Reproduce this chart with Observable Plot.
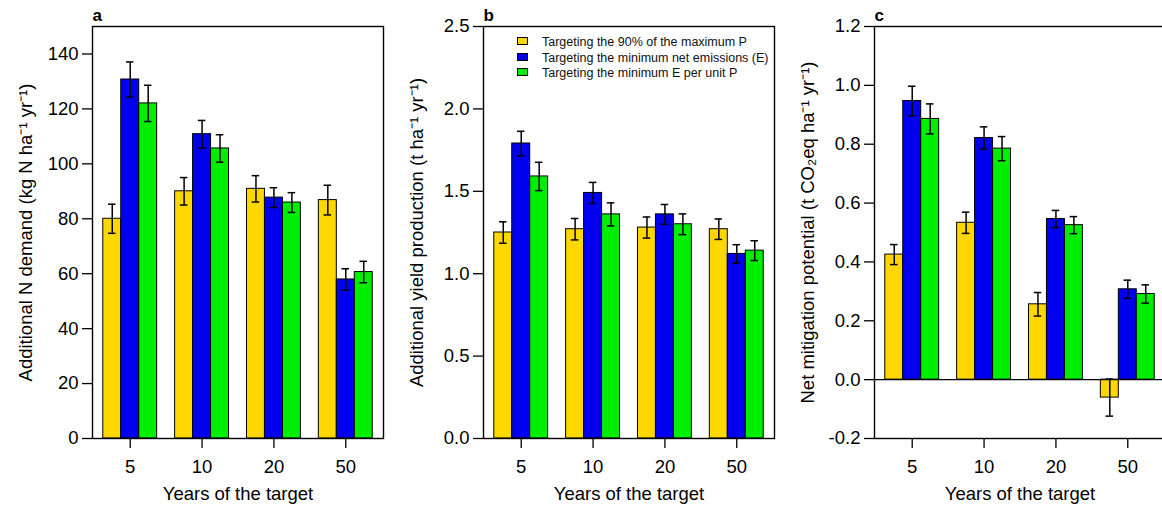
<!DOCTYPE html>
<html>
<head>
<meta charset="utf-8">
<script src="https://cdn.jsdelivr.net/npm/d3@7"></script>
<script src="https://cdn.jsdelivr.net/npm/@observablehq/plot@0.6"></script>
<style>
  html, body { margin: 0; padding: 0; background: #fff; overflow: hidden; width: 1162px; }
  #wrap { position: relative; width: 1162px; height: 507px; overflow: hidden; font-family: "Liberation Sans", Arial, sans-serif; }
  .panel { position: absolute; top: 0; max-width: none !important; }
  .legend { position: absolute; left: 517px; top: 35px; font-size: 12.5px; line-height: 15.5px; color: #111; }
  .legend div { white-space: nowrap; }
  .legend span.sw { display: inline-block; width: 9px; height: 6px; border: 1px solid #000; margin-right: 14px; vertical-align: 1px; }
</style>
</head>
<body>
<div id="wrap"></div>
<script>
// ---------- data ----------
const years = ["5", "10", "20", "50"];
const series = [
  "Targeting the 90% of the maximum P",
  "Targeting the minimum net emissions (E)",
  "Targeting the minimum E per unit P"
];
const colors = ["#ffd700", "#0000ee", "#00ee00"];

// panel a: Additional N demand (kg N ha-1 yr-1), one array per series across years
const nDemand90   = [80.0, 90.0, 90.9, 86.8];
const nDemandMinE = [130.7, 110.8, 87.7, 57.9];
const nDemandMinEP= [122.0, 105.6, 85.9, 60.6];
const nDemandErr90   = [5.3, 5.0, 4.8, 5.4];
const nDemandErrMinE = [6.4, 5.0, 3.6, 3.9];
const nDemandErrMinEP= [6.6, 5.0, 3.6, 3.9];

// panel b: Additional yield production (t ha-1 yr-1)
const yield90   = [1.25, 1.27, 1.28, 1.27];
const yieldMinE = [1.79, 1.49, 1.36, 1.12];
const yieldMinEP= [1.59, 1.36, 1.30, 1.14];
const yieldErr90   = [0.065, 0.065, 0.064, 0.062];
const yieldErrMinE = [0.074, 0.064, 0.060, 0.056];
const yieldErrMinEP= [0.086, 0.070, 0.063, 0.060];

// panel c: Net mitigation potential (t CO2eq ha-1 yr-1)
const mitig90   = [0.425, 0.533, 0.256, -0.061];
const mitigMinE = [0.947, 0.821, 0.546, 0.307];
const mitigMinEP= [0.886, 0.785, 0.525, 0.291];
const mitigErr90   = [0.034, 0.036, 0.040, 0.063];
const mitigErrMinE = [0.050, 0.038, 0.029, 0.031];
const mitigErrMinEP= [0.051, 0.041, 0.029, 0.031];

const yTicksA = [0, 20, 40, 60, 80, 100, 120, 140];
const yTicksB = [0, 0.5, 1.0, 1.5, 2.0, 2.5];
const yTicksC = [-0.2, 0, 0.2, 0.4, 0.6, 0.8, 1.0, 1.2];

// ---------- layout helpers (R barplot beside=TRUE, space = c(0,1)) ----------
const nS = series.length;
const barPos = (g, s) => 1 + g * (nS + 1) + s + 0.5;      // bar centre
const groupPos = g => 1 + g * (nS + 1) + nS / 2;          // group centre
const xMin = 1 - 0.04 * (years.length * (nS + 1) - 1);
const xMax = years.length * (nS + 1) + 0.04 * (years.length * (nS + 1) - 1);

function buildRows(valueSets, errSets) {
  const rows = [];
  valueSets.forEach((vals, s) => {
    vals.forEach((v, g) => {
      rows.push({year: years[g], series: series[s], value: v, err: errSets[s][g], pos: barPos(g, s)});
    });
  });
  return rows;
}

const FONT = "'Liberation Sans', Arial, sans-serif";
const FS = 18.5;
const PANEL_W = 391;
const PAGE_W = 1162;

function panel({letter, rows, yDomain, yTicks, yFormat, yLabel, zero, left}) {
  // the last panel is cut by the page edge, as in the reference figure
  const w = Math.min(PANEL_W, PAGE_W - left);
  const mr = 8 - (PANEL_W - w);
  const marks = [
    Plot.rectY(rows, {
      x1: d => d.pos - 0.5, x2: d => d.pos + 0.5, y1: 0, y2: "value",
      fill: "series", stroke: "#000", strokeWidth: 1
    })
  ];
  if (zero) marks.push(Plot.ruleY([0], {stroke: "#000", strokeWidth: 1.2}));
  marks.push(
    Plot.ruleX(rows, {x: "pos", y1: d => d.value - d.err, y2: d => d.value + d.err, stroke: "#000", strokeWidth: 1.5}),
    Plot.ruleY(rows, {y: d => d.value + d.err, x1: d => d.pos - 0.21, x2: d => d.pos + 0.21, stroke: "#000", strokeWidth: 1.5}),
    Plot.ruleY(rows, {y: d => d.value - d.err, x1: d => d.pos - 0.21, x2: d => d.pos + 0.21, stroke: "#000", strokeWidth: 1.5}),
    Plot.frame({stroke: "#000", strokeWidth: 1.4}),
    Plot.axisY({ticks: yTicks, tickFormat: yFormat, tickSize: 10, tickPadding: 4, fontSize: FS, label: null, stroke: "#000", strokeWidth: 1.3, fill: "#000"}),
    Plot.axisX({ticks: years.map((_, g) => groupPos(g)), tickFormat: (d, i) => years[i], tickSize: 10, tickPadding: 11, fontSize: FS, label: null, stroke: "#000", strokeWidth: 1.3, fill: "#000"}),
    Plot.text([yLabel], {text: d => d, frameAnchor: "left", dx: -66, rotate: -90, textAnchor: "middle", lineAnchor: "middle", fontSize: FS, fill: "#000"}),
    Plot.text(["Years of the target"], {text: d => d, frameAnchor: "bottom", dy: 56, textAnchor: "middle", lineAnchor: "middle", fontSize: FS, fill: "#000"}),
    Plot.text([letter], {text: d => d, frameAnchor: "top-left", dy: -11, textAnchor: "start", lineAnchor: "middle", fontSize: 17, fontWeight: "bold", fill: "#000"})
  );
  const svg = Plot.plot({
    width: w, height: 507,
    marginTop: 26, marginBottom: 69, marginLeft: 92, marginRight: mr,
    style: {fontFamily: FONT, fontSize: FS + "px", background: "transparent", color: "#000", overflow: "hidden"},
    x: {type: "linear", domain: [xMin, xMax]},
    y: {domain: yDomain},
    color: {domain: series, range: colors},
    marks
  });
  svg.classList.add("panel");
  svg.style.left = left + "px";
  svg.style.maxWidth = "none";
  svg.style.width = w + "px";
  svg.style.height = "507px";
  return svg;
}

const wrap = document.getElementById("wrap");
const fmt1 = d => d.toFixed(1);

wrap.appendChild(panel({
  letter: "a",
  rows: buildRows([nDemand90, nDemandMinE, nDemandMinEP], [nDemandErr90, nDemandErrMinE, nDemandErrMinEP]),
  yDomain: [0, 150], yTicks: yTicksA, yFormat: d => String(d),
  yLabel: "Additional N demand (kg N ha\u207B\u00B9 yr\u207B\u00B9)", zero: false, left: 0
}));
wrap.appendChild(panel({
  letter: "b",
  rows: buildRows([yield90, yieldMinE, yieldMinEP], [yieldErr90, yieldErrMinE, yieldErrMinEP]),
  yDomain: [0, 2.5], yTicks: yTicksB, yFormat: fmt1,
  yLabel: "Additional yield production (t ha\u207B\u00B9 yr\u207B\u00B9)", zero: false, left: 391
}));
wrap.appendChild(panel({
  letter: "c",
  rows: buildRows([mitig90, mitigMinE, mitigMinEP], [mitigErr90, mitigErrMinE, mitigErrMinEP]),
  yDomain: [-0.2, 1.2], yTicks: yTicksC, yFormat: fmt1,
  yLabel: "Net mitigation potential (t CO\u2082eq ha\u207B\u00B9 yr\u207B\u00B9)", zero: true, left: 782
}));

// legend (inside panel b)
const legend = document.createElement("div");
legend.className = "legend";
series.forEach((s, i) => {
  const row = document.createElement("div");
  const sw = document.createElement("span");
  sw.className = "sw";
  sw.style.background = colors[i];
  row.appendChild(sw);
  row.appendChild(document.createTextNode(s));
  legend.appendChild(row);
});
wrap.appendChild(legend);
</script>
</body>
</html>
